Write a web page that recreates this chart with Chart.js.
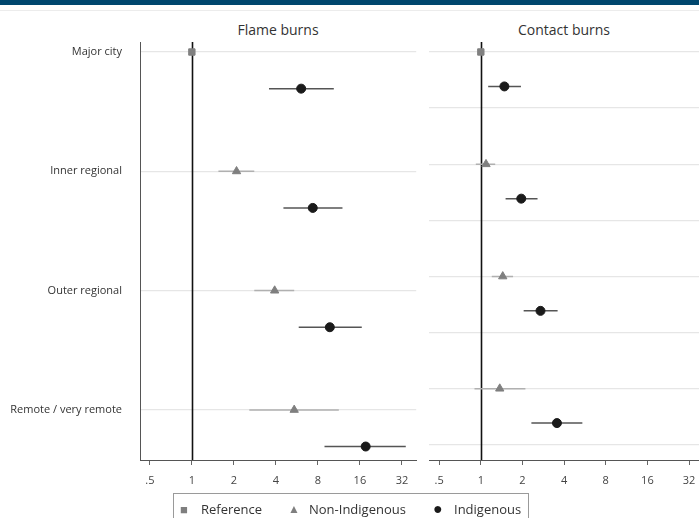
<!DOCTYPE html>
<html>
<head>
<meta charset="utf-8">
<script src="https://cdn.jsdelivr.net/npm/chart.js@4.4.1/dist/chart.umd.min.js"></script>
<style>
  html, body { margin: 0; padding: 0; background: #fff; }
  body { width: 699px; height: 518px; position: relative; overflow: hidden; font-family: "Open Sans", sans-serif; }
  .topbar { position: absolute; left: 0; top: 0; width: 699px; height: 5px; background: #00476e; }
  .topline { position: absolute; left: 0; top: 10px; width: 699px; height: 1px; background: #ececec; }
  .panel-title { position: absolute; top: 20px; font-size: 14px; color: #333; text-align: center; width: 270px; }
  canvas { position: absolute; top: 0; }
  .legend { position: absolute; left: 173px; top: 493px; width: 356px; height: 34px; border: 1px solid #9a9a9a; box-sizing: border-box; font-size: 13px; color: #333; }
  .legend span { position: absolute; top: 6px; }
  .sym { color: #7f7f7f; }
</style>
</head>
<body>
<div class="topbar"></div>
<div class="topline"></div>
<div class="panel-title" style="left:143px;">Flame burns</div>
<div class="panel-title" style="left:429px;">Contact burns</div>
<canvas id="flame" width="422" height="518" style="left:0"></canvas>
<canvas id="contact" width="285" height="518" style="left:420px"></canvas>
<div class="legend">
  <span class="sym" style="left:6px;font-size:13px;top:6px;">&#9632;</span><span style="left:27px;">Reference</span>
  <span class="sym" style="left:114px;font-size:12px;top:6px;">&#9650;</span><span style="left:135px;">Non-Indigenous</span>
  <span style="left:259px;color:#1a1a1a;font-size:16px;top:3px;">&#9679;</span><span style="left:280px;">Indigenous</span>
</div>
<script>
// --- Data (odds ratios) ---
const regions = ['Major city', 'Inner regional', 'Outer regional', 'Remote / very remote'];
const xTicks = [0.5, 1, 2, 4, 8, 16, 32];

// Major city, non-Indigenous is the reference group (=1)
const refValue = 1;

// Flame burns: non-Indigenous for inner / outer / remote
const flameNonInd   = [2.09, 3.92, 5.41];
const flameNonIndLo = [1.55, 2.80, 2.58];
const flameNonIndHi = [2.80, 5.41, 11.3];
// Flame burns: Indigenous for all four regions
const flameInd   = [6.07, 7.35, 9.74, 17.6];
const flameIndLo = [3.57, 4.53, 5.83, 8.92];
const flameIndHi = [10.4, 12.0, 16.5, 34.1];

// Contact burns
const contactNonInd   = [1.09, 1.44, 1.37];
const contactNonIndLo = [0.92, 1.20, 0.90];
const contactNonIndHi = [1.27, 1.71, 2.10];
const contactInd   = [1.48, 1.96, 2.70, 3.55];
const contactIndLo = [1.13, 1.51, 2.04, 2.32];
const contactIndHi = [1.95, 2.57, 3.59, 5.42];

// Indigenous rows sit a little below each region row
const IND_OFFSET = 0.307;

const refLine = {
    id: 'refLine',
    beforeDatasetsDraw(chart) {
        const { ctx, chartArea, scales } = chart;
        const x = Math.round(scales.x.getPixelForValue(1)) + 0.5;
        ctx.save();
        ctx.strokeStyle = '#111';
        ctx.lineWidth = 1.6;
        ctx.beginPath();
        ctx.moveTo(x, chartArea.top);
        ctx.lineTo(x, chartArea.bottom);
        ctx.stroke();
        ctx.restore();
    }
};

function ciLines(lo, hi, rowStart, offset, color) {
    return lo.map((l, i) => ({
        type: 'scatter',
        showLine: true,
        data: [{ x: l, y: rowStart + i + offset }, { x: hi[i], y: rowStart + i + offset }],
        borderColor: color,
        borderWidth: 1.5,
        pointRadius: 0,
        order: 2
    }));
}

function buildPanel(canvasId, cfg) {
    const datasets = [
        ...ciLines(cfg.nonIndLo, cfg.nonIndHi, 1, 0, '#b0b0b0'),
        ...ciLines(cfg.indLo, cfg.indHi, 0, IND_OFFSET, '#555'),
        {
            data: [{ x: refValue, y: 0 }],
            pointStyle: 'rect', pointRadius: 4.5,
            backgroundColor: '#808080', borderColor: '#808080', order: 0
        },
        {
            data: cfg.nonInd.map((v, i) => ({ x: v, y: i + 1 })),
            pointStyle: 'triangle', pointRadius: 4.8,
            backgroundColor: '#7f7f7f', borderColor: '#7f7f7f', order: 0
        },
        {
            data: cfg.ind.map((v, i) => ({ x: v, y: i + IND_OFFSET })),
            pointStyle: 'circle', pointRadius: 4.5,
            backgroundColor: '#1a1a1a', borderColor: '#1a1a1a', order: 0
        }
    ];

    return new Chart(document.getElementById(canvasId), {
        type: 'scatter',
        data: { datasets },
        plugins: [refLine],
        options: {
            responsive: false,
            animation: false,
            layout: { padding: { top: 42, right: 0, bottom: 0, left: 0 } },
            plugins: { legend: { display: false }, tooltip: { enabled: false } },
            scales: {
                x: {
                    type: 'logarithmic',
                    min: cfg.xMin,
                    max: cfg.xMax,
                    afterBuildTicks: (scale) => { scale.ticks = xTicks.map(v => ({ value: v })); },
                    afterFit: (scale) => { scale.height = 58; },
                    ticks: {
                        autoSkip: false,
                        maxRotation: 0,
                        padding: 9,
                        color: '#444',
                        font: { family: 'Open Sans', size: 11 },
                        callback: (v) => (v === 0.5 ? '.5' : String(v))
                    },
                    grid: { drawOnChartArea: false, drawTicks: true, tickLength: 5, color: '#666' },
                    border: { display: true, color: '#555', width: 1 }
                },
                y: {
                    type: 'linear',
                    reverse: true,
                    min: cfg.yMin,
                    max: cfg.yMax,
                    afterBuildTicks: (scale) => { scale.ticks = cfg.yTicks.map(v => ({ value: v })); },
                    afterFit: (scale) => { scale.width = cfg.yWidth; },
                    ticks: {
                        display: cfg.showLabels,
                        padding: 18,
                        color: '#333',
                        font: { family: 'Open Sans', size: 11 },
                        callback: (v) => regions[v] || ''
                    },
                    grid: { color: '#e6e6e6', lineWidth: 1.2, drawTicks: false },
                    border: { display: cfg.showLabels, color: '#555', width: 1 }
                }
            }
        }
    });
}

buildPanel('flame', {
    nonInd: flameNonInd, nonIndLo: flameNonIndLo, nonIndHi: flameNonIndHi,
    ind: flameInd, indLo: flameIndLo, indHi: flameIndHi,
    xMin: 0.425, xMax: 40.5,
    yMin: -0.084, yMax: 3.42,
    yTicks: [0, 1, 2, 3],
    yWidth: 140, showLabels: true
});

buildPanel('contact', {
    nonInd: contactNonInd, nonIndLo: contactNonIndLo, nonIndHi: contactNonIndHi,
    ind: contactInd, indLo: contactIndLo, indHi: contactIndHi,
    xMin: 0.422, xMax: 37.9,
    yMin: -0.089, yMax: 3.636,
    yTicks: [0, 0.5, 1, 1.5, 2, 2.5, 3, 3.5],
    yWidth: 9, showLabels: false
});
</script>
</body>
</html>
